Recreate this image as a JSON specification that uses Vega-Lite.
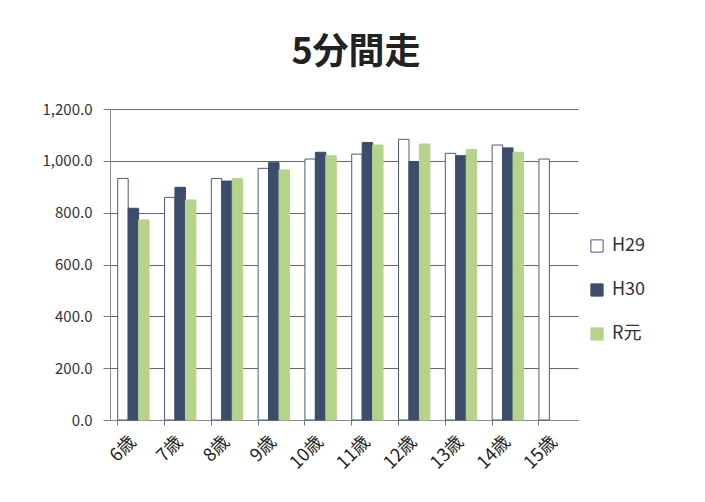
{
  "$schema": "https://vega.github.io/schema/vega-lite/v6.json",
  "width": 468,
  "height": 311,
  "autosize": {"type": "none"},
  "padding": {"left": 110, "top": 109, "right": 127, "bottom": 82},
  "background": "white",
  "title": {
    "text": "5分間走",
    "fontSize": 36,
    "fontWeight": "bold",
    "font": "Noto Sans CJK JP",
    "color": "#222222",
    "anchor": "middle",
    "dx": 12,
    "offset": 30
  },
  "data": {
    "values": [
      {"age": "6歳", "year": "H29", "value": 932},
      {"age": "6歳", "year": "H30", "value": 817},
      {"age": "6歳", "year": "R元", "value": 772},
      {"age": "7歳", "year": "H29", "value": 859},
      {"age": "7歳", "year": "H30", "value": 898},
      {"age": "7歳", "year": "R元", "value": 849},
      {"age": "8歳", "year": "H29", "value": 932},
      {"age": "8歳", "year": "H30", "value": 922},
      {"age": "8歳", "year": "R元", "value": 932},
      {"age": "9歳", "year": "H29", "value": 971},
      {"age": "9歳", "year": "H30", "value": 993},
      {"age": "9歳", "year": "R元", "value": 965},
      {"age": "10歳", "year": "H29", "value": 1007},
      {"age": "10歳", "year": "H30", "value": 1033},
      {"age": "10歳", "year": "R元", "value": 1020},
      {"age": "11歳", "year": "H29", "value": 1026},
      {"age": "11歳", "year": "H30", "value": 1071},
      {"age": "11歳", "year": "R元", "value": 1061},
      {"age": "12歳", "year": "H29", "value": 1083},
      {"age": "12歳", "year": "H30", "value": 997},
      {"age": "12歳", "year": "R元", "value": 1065},
      {"age": "13歳", "year": "H29", "value": 1029},
      {"age": "13歳", "year": "H30", "value": 1020},
      {"age": "13歳", "year": "R元", "value": 1044},
      {"age": "14歳", "year": "H29", "value": 1061},
      {"age": "14歳", "year": "H30", "value": 1050},
      {"age": "14歳", "year": "R元", "value": 1033},
      {"age": "15歳", "year": "H29", "value": 1007}
    ]
  },
  "mark": {"type": "bar", "strokeWidth": 1},
  "encoding": {
    "x": {
      "field": "age",
      "type": "nominal",
      "sort": ["6歳", "7歳", "8歳", "9歳", "10歳", "11歳", "12歳", "13歳", "14歳", "15歳"],
      "scale": {"paddingInner": 0.33, "paddingOuter": 0.165},
      "axis": {
        "title": null,
        "labelAngle": -45,
        "labelAlign": "right",
        "labelBaseline": "middle",
        "labelFontSize": 18,
        "labelFont": "Noto Sans CJK JP",
        "labelColor": "#222222",
        "labelPadding": 14,
        "bandPosition": 0,
        "ticks": true,
        "tickSize": 5,
        "tickColor": "#777777",
        "domainColor": "#888888",
        "grid": false
      }
    },
    "xOffset": {
      "field": "year",
      "type": "nominal",
      "sort": ["H29", "H30", "R元"],
      "scale": {"paddingInner": 0, "paddingOuter": 0}
    },
    "y": {
      "field": "value",
      "type": "quantitative",
      "scale": {"domain": [0, 1200], "nice": false},
      "axis": {
        "title": null,
        "values": [0, 200, 400, 600, 800, 1000, 1200],
        "format": ",.1f",
        "labelFontSize": 15,
        "labelFont": "Noto Sans CJK JP",
        "labelColor": "#333333",
        "labelPadding": 11,
        "tickSize": 7,
        "tickColor": "#777777",
        "domainColor": "#888888",
        "gridColor": "#666666",
        "gridWidth": 1.2
      }
    },
    "color": {
      "field": "year",
      "type": "nominal",
      "sort": ["H29", "H30", "R元"],
      "scale": {"domain": ["H29", "H30", "R元"], "range": ["#ffffff", "#3c4d6b", "#b5d38a"]},
      "legend": {
        "title": null,
        "orient": "none",
        "legendX": 478,
        "legendY": 128,
        "symbolType": "square",
        "symbolSize": 150,
        "symbolStrokeWidth": 1,
        "labelFontSize": 18,
        "labelFont": "Noto Sans CJK JP",
        "labelColor": "#333333",
        "rowPadding": 26,
        "labelOffset": 6
      }
    },
    "stroke": {
      "field": "year",
      "type": "nominal",
      "sort": ["H29", "H30", "R元"],
      "scale": {"domain": ["H29", "H30", "R元"], "range": ["#4a5a7a", "#3c4d6b", "#b5d38a"]},
      "legend": null
    }
  },
  "config": {
    "view": {"stroke": null},
    "bar": {"fillOpacity": 1}
  }
}
